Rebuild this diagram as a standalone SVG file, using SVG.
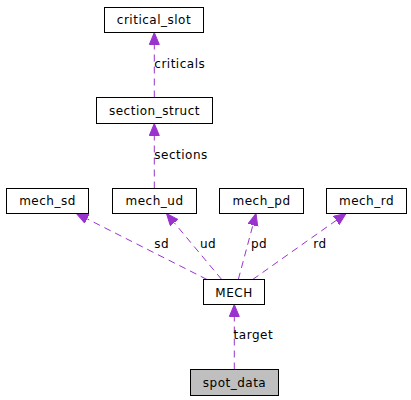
<svg xmlns="http://www.w3.org/2000/svg" width="411" height="400" viewBox="0 0 411 400">
<style>
.node rect{fill:#ffffff;stroke:#000000;stroke-width:1}
.node text,.lbl{font-family:"DejaVu Sans",sans-serif;font-size:12px;letter-spacing:0.5px;fill:#000000}
.node text{text-anchor:middle}
.edge{stroke:#9a32cd;stroke-width:1;stroke-dasharray:7,5;fill:none;marker-end:url(#ah)}
</style>
<defs>
<marker id="ah" markerUnits="userSpaceOnUse" markerWidth="14" markerHeight="12" refX="0" refY="5" orient="auto" viewBox="0 0 14 12">
<path d="M0,0 L12,5 L0,10 z" fill="#9a32cd" stroke="#9a32cd" stroke-width="1"/>
</marker>
</defs>
<rect width="411" height="400" fill="#ffffff"/>
<g id="connectors">
<line class="edge" x1="154.3" y1="97.5" x2="154.3" y2="44.5"/>
<line class="edge" x1="154.3" y1="188.5" x2="154.3" y2="135.5"/>
<line class="edge" x1="207" y1="279.5" x2="87.2" y2="218.9"/>
<line class="edge" x1="221.7" y1="279.5" x2="174.2" y2="222.7"/>
<line class="edge" x1="238.3" y1="279.5" x2="252.9" y2="225.1"/>
<line class="edge" x1="252.7" y1="279.5" x2="336.2" y2="220.4"/>
<line class="edge" x1="234.3" y1="369.5" x2="234.3" y2="316.5"/>
<text class="lbl" x="154.3" y="67.7">criticals</text>
<text class="lbl" x="154.3" y="159">sections</text>
<text class="lbl" x="154.3" y="248.3">sd</text>
<text class="lbl" x="200" y="248.3">ud</text>
<text class="lbl" x="251" y="248.3">pd</text>
<text class="lbl" x="313.3" y="248.3">rd</text>
<text class="lbl" x="233.6" y="339">target</text>
</g>
<g id="critical_slot" class="node"><rect x="104.5" y="7.5" width="99" height="25"/><text x="154" y="24.3">critical_slot</text></g>
<g id="section_struct" class="node"><rect x="96.5" y="97.5" width="116" height="26"/><text x="154.5" y="114.8">section_struct</text></g>
<g id="mech_sd" class="node"><rect x="6.5" y="188.5" width="82" height="25"/><text x="47.5" y="205.3">mech_sd</text></g>
<g id="mech_ud" class="node"><rect x="112.5" y="188.5" width="84" height="25"/><text x="154.5" y="205.3">mech_ud</text></g>
<g id="mech_pd" class="node"><rect x="219.5" y="188.5" width="84" height="25"/><text x="261.5" y="205.3">mech_pd</text></g>
<g id="mech_rd" class="node"><rect x="326.5" y="188.5" width="80" height="25"/><text x="366.5" y="205.3">mech_rd</text></g>
<g id="MECH" class="node"><rect x="203.5" y="279.5" width="61" height="25"/><text x="234" y="296.5">MECH</text></g>
<g id="spot_data" class="node"><rect x="190.5" y="369.5" width="88" height="26" style="fill:#bfbfbf"/><text x="234.5" y="386.5">spot_data</text></g>
</svg>
